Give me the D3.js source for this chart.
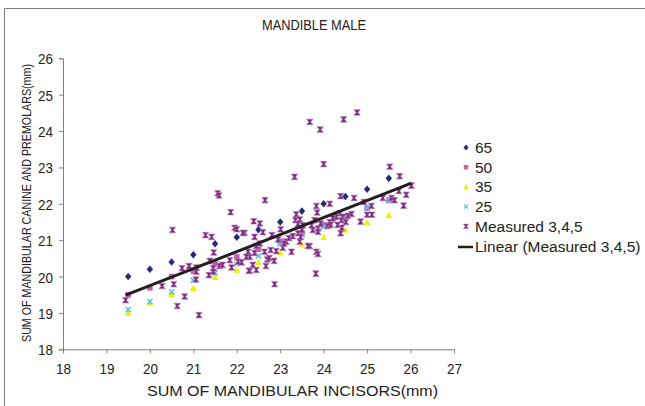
<!DOCTYPE html>
<html><head><meta charset="utf-8">
<script src="https://cdn.jsdelivr.net/npm/d3@7"></script>
<style>body{margin:0;background:#fff}svg{display:block}text{font-family:"Liberation Sans",Arial,sans-serif;fill:#222}</style>
</head><body><svg id="c" width="645" height="406"></svg>
<script>
const title = "MANDIBLE MALE";
const xLabel = "SUM OF MANDIBULAR INCISORS(mm)";
const yLabel = "SUM OF MANDIBULAR CANINE AND PREMOLARS(mm)";
const xTicks = [18,19,20,21,22,23,24,25,26,27];
const yTicks = [18,19,20,21,22,23,24,25,26];
const pctX = [19.5,20,20.5,21,21.5,22,22.5,23,23.5,24,24.5,25,25.5];
const p65 = [20.0,20.2,20.4,20.6,20.9,21.08,21.29,21.5,21.8,22.0,22.2,22.4,22.7];
const p50 = [19.5,19.69,20.0,20.15,20.35,20.54,20.75,20.97,21.2,21.42,21.65,21.88,22.1];
const p35 = [19.0,19.28,19.5,19.68,19.98,20.18,20.39,20.66,20.88,21.08,21.28,21.49,21.69];
const p25 = [19.09,19.31,19.58,19.9,20.1,20.35,20.57,20.9,21.15,21.37,21.62,21.88,22.08];
const measX = [23.68,23.92,24.46,24.77,24.0,25.52,25.75,26.02,25.9,25.84,25.73,25.56,25.63,25.36,24.39,24.7,23.83,24.14,23.85,24.93,25.1,25.0,25.11,24.85,24.38,24.44,24.56,24.29,24.41,24.42,24.39,24.14,23.87,23.87,23.83,23.87,23.82,23.68,22.65,22.39,22.53,22.18,23.01,23.37,23.35,23.45,23.79,23.93,24.09,22.81,23.14,23.41,23.5,23.45,23.64,22.87,22.3,22.45,22.37,22.67,22.86,22.7,22.3,22.41,22.64,22.78,22.91,23.06,23.09,23.26,22.45,22.41,22.53,22.26,23.75,23.41,23.52,23.47,22.95,21.56,21.59,21.86,20.52,21.28,21.42,21.95,22.0,22.14,21.47,21.38,21.46,21.6,21.67,21.84,21.88,22.03,22.11,22.22,22.28,20.74,20.9,21.07,21.07,21.06,21.36,20.28,20.55,20.8,20.63,21.13,19.44,23.33,22.75,24.21,24.51,24.64,24.32,23.2,23.29,22.6,24.16,23.72,21.46];
const measY = [24.25,24.04,24.32,24.51,23.09,23.02,22.76,22.5,22.25,21.95,22.35,22.16,22.1,22.16,22.21,22.16,21.94,22.0,21.76,22.05,21.94,21.7,21.7,21.51,21.74,21.64,21.67,21.64,21.55,21.34,21.19,21.5,21.32,21.23,20.68,20.62,20.08,20.84,22.1,21.52,21.46,21.2,21.3,21.71,21.55,21.57,21.55,21.46,21.39,21.14,20.96,21.19,21.28,20.96,20.84,19.79,20.16,20.18,20.32,20.29,20.43,20.47,20.54,20.65,20.68,20.73,20.7,20.79,20.91,20.68,20.84,21.09,20.91,20.68,21.28,21.45,21.41,21.09,21.02,22.29,22.23,21.77,21.28,21.14,21.09,21.34,21.3,21.2,20.66,20.43,20.23,20.29,20.32,20.45,20.25,20.41,20.39,20.54,20.16,20.23,20.29,20.25,20.13,19.92,20.04,19.74,19.79,19.45,19.19,18.94,19.35,22.74,20.51,21.6,21.5,21.72,21.42,21.06,21.11,21.22,21.42,21.41,20.13];
const legendNames = ["65","50","35","25","Measured 3,4,5","Linear (Measured 3,4,5)"];

const svg = d3.select("#c");
const x = d3.scaleLinear().domain([18,27]).range([63,454]);
const y = d3.scaleLinear().domain([18,26]).range([349.3,58.3]);
const axisColor = "#808080";

// frame
svg.append("path").attr("d","M4.5,406 V8.5 H645").attr("fill","none").attr("stroke",axisColor).attr("stroke-width",1);

// title
svg.append("text").attr("x",314).attr("y",30).attr("text-anchor","middle")
  .attr("font-size",15).attr("textLength",104).attr("lengthAdjust","spacingAndGlyphs").text(title);

// axes
const gx = svg.append("g").attr("transform","translate(0,349.3)")
  .call(d3.axisBottom(x).tickValues(xTicks).tickSize(4).tickFormat(d3.format("d")));
const gy = svg.append("g").attr("transform","translate(63,0)")
  .call(d3.axisLeft(y).tickValues(yTicks).tickSize(4).tickFormat(d3.format("d")));
[gx,gy].forEach(g=>{
  g.select(".domain").attr("stroke",axisColor);
  g.selectAll(".tick line").attr("stroke",axisColor);
  g.selectAll(".tick text").attr("font-size",15).attr("fill","#222")
   .attr("font-family","Liberation Sans, Arial, sans-serif")
   .attr("textLength",15).attr("lengthAdjust","spacingAndGlyphs");
});
gx.selectAll(".tick text").attr("dy",null).attr("y",25);
gy.selectAll(".tick text").attr("dy",null).attr("y",5.5).attr("x",-10);

svg.append("text").attr("x",292.5).attr("y",396).attr("text-anchor","middle")
  .attr("font-size",15).attr("textLength",291).attr("lengthAdjust","spacingAndGlyphs").text(xLabel);
svg.append("text").attr("transform","translate(30.5,203) rotate(-90)").attr("text-anchor","middle")
  .attr("font-size",13).attr("textLength",278).attr("lengthAdjust","spacingAndGlyphs").text(yLabel);

// marker shapes
const diamond = "M0,-3.8 L3.2,0 L0,3.8 L-3.2,0 Z";
const square = "M-2.8,-2.8 H2.8 V2.8 H-2.8 Z";
const tri = "M0,-3.4 L3.4,2.8 L-3.4,2.8 Z";
const cross = "M-2.6,-2.6 L2.6,2.6 M2.6,-2.6 L-2.6,2.6";
const hour = "M-3.2,-2.8 H3.2 L0.9,0 L3.2,2.8 H-3.2 L-0.9,0 Z";

const col = {p65:"#252A7C", p50:"#C75FAE", p35:"#F2EE00", p25:"#55C6E6", meas:"#7A2A80", line:"#231F20"};

function drawSeries(xs, ys, path, fill, stroke, sw){
  svg.append("g").selectAll("path").data(xs.map((v,i)=>[v,ys[i]])).join("path")
    .attr("transform",d=>`translate(${x(d[0])},${y(d[1])})`)
    .attr("d",path).attr("fill",fill).attr("stroke",stroke).attr("stroke-width",sw);
}
drawSeries(pctX,p65,diamond,col.p65,"none",0);
drawSeries(pctX,p50,square,col.p50,"none",0);
drawSeries(pctX,p35,tri,col.p35,"none",0);
drawSeries(pctX,p25,cross,"none",col.p25,1.6);
drawSeries(measX,measY,hour,col.meas,"#B77BB5",0.6);

// linear trend (least squares of measured)
const n = measX.length;
const mx = d3.mean(measX), my = d3.mean(measY);
let sxy=0, sxx=0;
for(let i=0;i<n;i++){sxy+=(measX[i]-mx)*(measY[i]-my); sxx+=(measX[i]-mx)**2;}
const slope = sxy/sxx, icpt = my - slope*mx;
const ext = d3.extent(measX);
svg.append("line").attr("x1",x(ext[0])).attr("y1",y(icpt+slope*ext[0]))
  .attr("x2",x(ext[1])).attr("y2",y(icpt+slope*ext[1]))
  .attr("stroke",col.line).attr("stroke-width",3);

// legend
const lg = svg.append("g");
const rowY = i => 147.5 + i*19.7;
const legShapes = [[diamond,col.p65,"none",0],[square,col.p50,"none",0],[tri,col.p35,"none",0],[cross,"none",col.p25,1.5],[hour,col.meas,"#B77BB5",0.6]];
legShapes.forEach((s,i)=>{
  lg.append("path").attr("transform",`translate(466,${rowY(i)}) scale(0.8)`).attr("d",s[0])
    .attr("fill",s[1]).attr("stroke",s[2]).attr("stroke-width",s[3]);
});
lg.append("line").attr("x1",458).attr("x2",473).attr("y1",rowY(5)+1).attr("y2",rowY(5)+1).attr("stroke",col.line).attr("stroke-width",2.5);
legendNames.forEach((t,i)=>{
  lg.append("text").attr("x",475).attr("y",rowY(i)+5.5).attr("font-size",15.5).text(t);
});
</script></body></html>
